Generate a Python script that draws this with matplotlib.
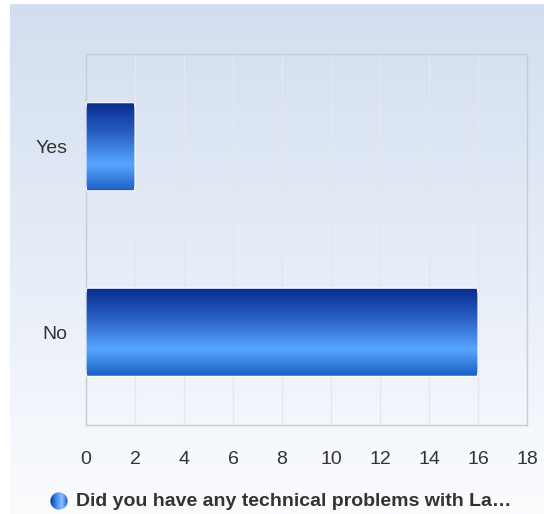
import numpy as np
import matplotlib
matplotlib.use("Agg")
import matplotlib.pyplot as plt
from matplotlib.colors import LinearSegmentedColormap
from matplotlib.patches import FancyBboxPatch

categories = ["Yes", "No"]
values = [2, 16]
xticks = [0, 2, 4, 6, 8, 10, 12, 14, 16, 18]
legend_label = "Did you have any technical problems with La\u2026"

plt.rcParams['font.family'] = ['Liberation Sans', 'DejaVu Sans']

W, H = 544, 514
fig = plt.figure(figsize=(W / 100, H / 100), dpi=100)
fig.patch.set_facecolor('white')

# background gradient panel
bg = fig.add_axes([10 / W, 0, 1 - 10 / W, 1 - 4 / H])
bg.set_axis_off()
bg_cmap = LinearSegmentedColormap.from_list('bg', ['#d2deef', '#e6edf7', '#fbfcfe'])
bg.imshow(np.linspace(0, 1, 256).reshape(-1, 1), aspect='auto', cmap=bg_cmap,
          extent=[0, 1, 0, 1], origin='upper')
bg.set_xlim(0, 1)
bg.set_ylim(0, 1)

ax = fig.add_axes([86 / W, 1 - 425 / H, (527 - 86) / W, (425 - 54) / H])
ax.patch.set_alpha(0)
ax.set_xticks(xticks)
ax.set_xticklabels([str(t) for t in xticks])
ax.set_yticks(range(len(categories)))
ax.set_yticklabels(categories)
ax.tick_params(length=0, labelsize=14, colors='#333333')
ax.tick_params(axis='x', pad=18.5)
ax.tick_params(axis='y', pad=13.5)
for s in ax.spines.values():
    s.set_color('#c9cdd3')
    s.set_linewidth(1)
ax.grid(axis='x', color='#e4e7ec', linewidth=1)
ax.set_axisbelow(True)

bar_cmap = LinearSegmentedColormap.from_list(
    'bar', [(0.0, '#062b8c'), (0.35, '#2a5fc4'), (0.7, '#58a6ff'), (1.0, '#1a5ec4')])
bars = ax.barh(range(len(categories)), values, height=0.475, color='none',
               edgecolor='none')
for b in bars:
    x0, y0 = b.get_x(), b.get_y()
    w, h = b.get_width(), b.get_height()
    patch = FancyBboxPatch((x0, y0), w, h, boxstyle='round,pad=0,rounding_size=0.05',
                           mutation_aspect=h / 0.5, facecolor='none',
                           edgecolor='white', linewidth=0.8, zorder=4)
    ax.add_patch(patch)
    # y axis inverted: top of bar is y0
    im = ax.imshow(np.linspace(0, 1, 256).reshape(-1, 1), aspect='auto', cmap=bar_cmap,
                   extent=[x0, x0 + w, y0 + h, y0], origin='upper', zorder=3)
    im.set_clip_path(patch)
ax.set_xlim(0, 18)
ax.set_ylim(1.5, -0.5)

# legend
leg = fig.add_axes([49.5 / W, 1 - 510 / H, 18 / W, 18 / H])
leg.set_axis_off()
yy, xx = np.mgrid[-1:1:64j, -1:1:64j]
circ_cmap = LinearSegmentedColormap.from_list('c', ['#0a2f9a', '#3d86f0', '#8cc0ff', '#1d56c8'])
img = circ_cmap((xx + 1) / 2)
img[..., 3] = np.clip((1 - np.sqrt(xx ** 2 + yy ** 2)) * 20, 0, 1)
leg.imshow(img, extent=[-1, 1, -1, 1])
fig.text(76 / W, 1 - 501 / H, legend_label, fontsize=14, fontweight='bold',
         color='#333333', va='center', ha='left')

fig.savefig('out.png', dpi=100)
